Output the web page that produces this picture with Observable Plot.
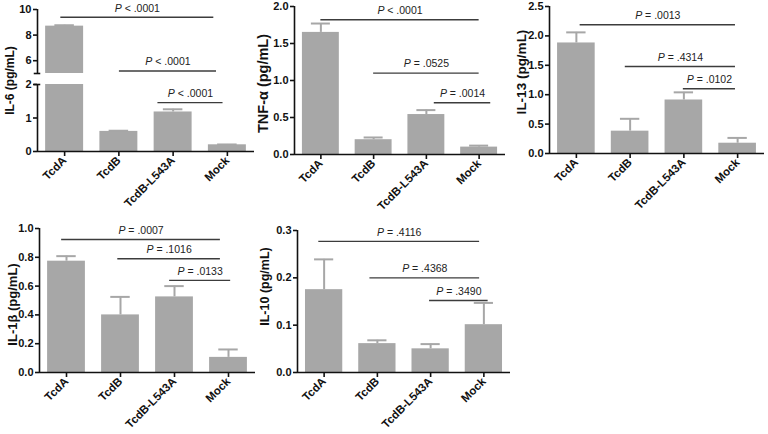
<!DOCTYPE html>
<html><head><meta charset="utf-8">
<script src="https://cdn.jsdelivr.net/npm/d3@7"></script>
<script src="https://cdn.jsdelivr.net/npm/@observablehq/plot@0.6"></script>
<style>
html,body{margin:0;padding:0;background:#fff;}
#root{position:relative;width:768px;height:434px;overflow:hidden;font-family:"Liberation Sans",Arial,sans-serif;}
#root svg{position:absolute;overflow:visible;}
</style></head><body><div id="root"></div>
<script>
// ---- data ----
const categories = ["TcdA", "TcdB", "TcdB-L543A", "Mock"];

const il6Values = [8.7, 0.6, 1.18, 0.2];
const il6Errors = [0.07, 0.02, 0.08, 0.01];
const il6SigFrom = [-0.07, 1.01, 1.72];
const il6SigTo = [2.75, 2.8, 2.92];
const il6SigY = [9.4, 5.2, 1.46];
const il6SigP = ["P < .0001", "P < .0001", "P < .0001"];
const il6TicksLow = [0, 1, 2];
const il6TicksHigh = [6, 8, 10];

const tnfValues = [1.65, 0.2, 0.54, 0.1];
const tnfErrors = [0.12, 0.03, 0.06, 0.02];
const tnfSigFrom = [0, 1, 2.15];
const tnfSigTo = [3, 3, 3.22];
const tnfSigY = [1.82, 1.10, 0.70];
const tnfSigP = ["P < .0001", "P = .0525", "P = .0014"];
const tnfTicks = [0, 0.5, 1.0, 1.5, 2.0];

const il13Values = [1.88, 0.38, 0.91, 0.175];
const il13Errors = [0.18, 0.21, 0.13, 0.09];
const il13SigFrom = [0.07, 0.91, 1.99];
const il13SigTo = [2.96, 2.96, 2.96];
const il13SigY = [2.19, 1.48, 1.10];
const il13SigP = ["P = .0013", "P = .4314", "P = .0102"];
const il13Ticks = [0, 0.5, 1.0, 1.5, 2.0, 2.5];

const il1bValues = [0.773, 0.40, 0.525, 0.105];
const il1bErrors = [0.035, 0.125, 0.075, 0.055];
const il1bSigFrom = [-0.09, 0.95, 1.91];
const il1bSigTo = [2.85, 2.85, 3.04];
const il1bSigY = [0.924, 0.79, 0.64];
const il1bSigP = ["P = .0007", "P = .1016", "P = .0133"];
const il1bTicks = [0, 0.2, 0.4, 0.6, 0.8, 1.0];

const il10Values = [0.175, 0.061, 0.05, 0.101];
const il10Errors = [0.064, 0.007, 0.01, 0.046];
const il10SigFrom = [-0.1, 0.86, 1.98];
const il10SigTo = [2.92, 2.92, 3.08];
const il10SigY = [0.277, 0.20, 0.152];
const il10SigP = ["P = .4116", "P = .4368", "P = .3490"];
const il10Ticks = [0, 0.1, 0.2, 0.3];

// ---- drawing ----
const BAR = "#a7a7a7";
const SIG = "#3c3c3c";
const FONT = "Liberation Sans, Arial, Helvetica, sans-serif";
const xDomain = [-0.5, 3.5];
const root = document.getElementById("root");

function rowsOf(values, errors) {
  return categories.map((c, i) => ({i, cat: c, value: values[i], err: errors[i]}));
}
function sigRows(from, to, ys, ps) {
  return ys.map((y, k) => ({from: from[k], to: to[k], y, p: ps[k]}));
}

function italicP(svg) {
  svg.querySelectorAll("text").forEach(t => {
    const s = t.textContent;
    if (/^P [<=]/.test(s)) {
      t.textContent = "";
      const ts = document.createElementNS("http://www.w3.org/2000/svg", "tspan");
      ts.setAttribute("font-style", "italic");
      ts.textContent = "P";
      t.appendChild(ts);
      t.appendChild(document.createTextNode(s.slice(1)));
    }
  });
}

function panel(o) {
  const rows = rowsOf(o.values, o.errors);
  const sig = sigRows(o.sigFrom, o.sigTo, o.sigY, o.sigP)
    .filter(d => d.y >= o.yDomain[0] && d.y <= o.yDomain[1]);
  const errRows = rows.filter(d => d.value + d.err <= o.yDomain[1] && d.value + d.err >= o.yDomain[0]);
  const marks = [
    Plot.rect(rows, {x1: d => d.i - 0.35, x2: d => d.i + 0.35, y1: 0, y2: "value", fill: BAR, clip: true}),
    Plot.ruleX(errRows, {x: "i", y1: "value", y2: d => d.value + d.err, stroke: BAR, strokeWidth: 2}),
    Plot.ruleY(errRows, {y: d => d.value + d.err, x1: d => d.i - 0.18, x2: d => d.i + 0.18, stroke: BAR, strokeWidth: 2}),
    Plot.ruleY(sig, {y: "y", x1: "from", x2: "to", stroke: SIG, strokeWidth: 1.4}),
    Plot.text(sig, {x: d => (d.from + d.to) / 2, y: "y", text: "p", dy: -9, lineAnchor: "middle", fontSize: 10.5, fill: "#222", fontWeight: "normal"}),
    Plot.ruleX([xDomain[0]], {stroke: "#111", strokeWidth: 1.6}),
    Plot.axisY({ticks: o.yTicks, tickFormat: o.tickFormat, tickSize: 4, tickPadding: 2, fontSize: 11, fontWeight: "bold", label: null, stroke: "#111", strokeWidth: 1.6, fill: "#111"})
  ];
  if (o.breakAt !== undefined) {
    marks.push(Plot.ruleY([o.breakAt], {x1: xDomain[0] - 0.06, x2: xDomain[0] + 0.06, stroke: "#111", strokeWidth: 1.6}));
  }
  if (o.xAxis) {
    marks.push(Plot.ruleY([o.yDomain[0]], {stroke: "#111", strokeWidth: 1.6}));
    marks.push(Plot.axisX({ticks: [0, 1, 2, 3], tickFormat: i => categories[i], tickRotate: -45, tickSize: 5, tickPadding: 2, fontSize: 11.5, fontWeight: "bold", label: null, stroke: "#111", strokeWidth: 1.6, fill: "#111"}));
  }
  if (o.title) {
    marks.push(Plot.text([o.title], {frameAnchor: "left", rotate: -90, dx: -o.titleDx, dy: o.titleDy, textAnchor: "middle", lineAnchor: "middle", fontSize: o.titleSize, fontWeight: "bold", fill: "#111"}));
  }
  const svg = Plot.plot({
    width: o.width, height: o.height,
    marginLeft: o.ml, marginRight: o.mr, marginTop: o.mt, marginBottom: o.mb,
    x: {type: "linear", domain: xDomain, axis: null},
    y: {domain: o.yDomain, axis: null},
    style: {background: "transparent", overflow: "visible", fontFamily: FONT},
    marks
  });
  svg.style.left = o.left + "px";
  svg.style.top = o.top + "px";
  italicP(svg);
  root.appendChild(svg);
}

const intFmt = d => d3.format("d")(d);
const dec1 = d => d3.format(".1f")(d);

// IL-6 (broken axis): lower and upper segments
panel({values: il6Values, errors: il6Errors, sigFrom: il6SigFrom, sigTo: il6SigTo, sigY: il6SigY, sigP: il6SigP,
  yDomain: [0, 2], yTicks: il6TicksLow, tickFormat: intFmt, breakAt: 2, xAxis: true,
  title: "IL-6 (pg/mL)", titleDx: 27, titleDy: -37.5, titleSize: 12,
  left: 0, top: 0, width: 258, height: 222, ml: 37, mr: 4, mt: 84, mb: 71});
panel({values: il6Values, errors: il6Errors, sigFrom: il6SigFrom, sigTo: il6SigTo, sigY: il6SigY, sigP: il6SigP,
  yDomain: [5, 10], yTicks: il6TicksHigh, tickFormat: intFmt, breakAt: 5, xAxis: false,
  left: 0, top: 0, width: 258, height: 80, ml: 37, mr: 4, mt: 9, mb: 7});

// TNF-α
panel({values: tnfValues, errors: tnfErrors, sigFrom: tnfSigFrom, sigTo: tnfSigTo, sigY: tnfSigY, sigP: tnfSigP,
  yDomain: [0, 2], yTicks: tnfTicks, tickFormat: dec1, xAxis: true,
  title: "TNF-α (pg/mL)", titleDx: 31, titleDy: 3, titleSize: 14.5,
  left: 250, top: 0, width: 258, height: 222, ml: 44, mr: 3, mt: 6, mb: 68});

// IL-13
panel({values: il13Values, errors: il13Errors, sigFrom: il13SigFrom, sigTo: il13SigTo, sigY: il13SigY, sigP: il13SigP,
  yDomain: [0, 2.5], yTicks: il13Ticks, tickFormat: dec1, xAxis: true,
  title: "IL-13 (pg/mL)", titleDx: 28, titleDy: -8, titleSize: 13.5,
  left: 500, top: 0, width: 268, height: 222, ml: 49, mr: 4, mt: 6, mb: 69});

// IL-1β
panel({values: il1bValues, errors: il1bErrors, sigFrom: il1bSigFrom, sigTo: il1bSigTo, sigY: il1bSigY, sigP: il1bSigP,
  yDomain: [0, 1], yTicks: il1bTicks, tickFormat: dec1, xAxis: true,
  title: "IL-1β (pg/mL)", titleDx: 27, titleDy: 4, titleSize: 13,
  left: 0, top: 210, width: 258, height: 224, ml: 39, mr: 3, mt: 18, mb: 62});

// IL-10
panel({values: il10Values, errors: il10Errors, sigFrom: il10SigFrom, sigTo: il10SigTo, sigY: il10SigY, sigP: il10SigP,
  yDomain: [0, 0.3], yTicks: il10Ticks, tickFormat: dec1, xAxis: true,
  title: "IL-10 (pg/mL)", titleDx: 33, titleDy: -15, titleSize: 12.5,
  left: 250, top: 210, width: 262, height: 224, ml: 47, mr: 2, mt: 20, mb: 62});
</script></body></html>
